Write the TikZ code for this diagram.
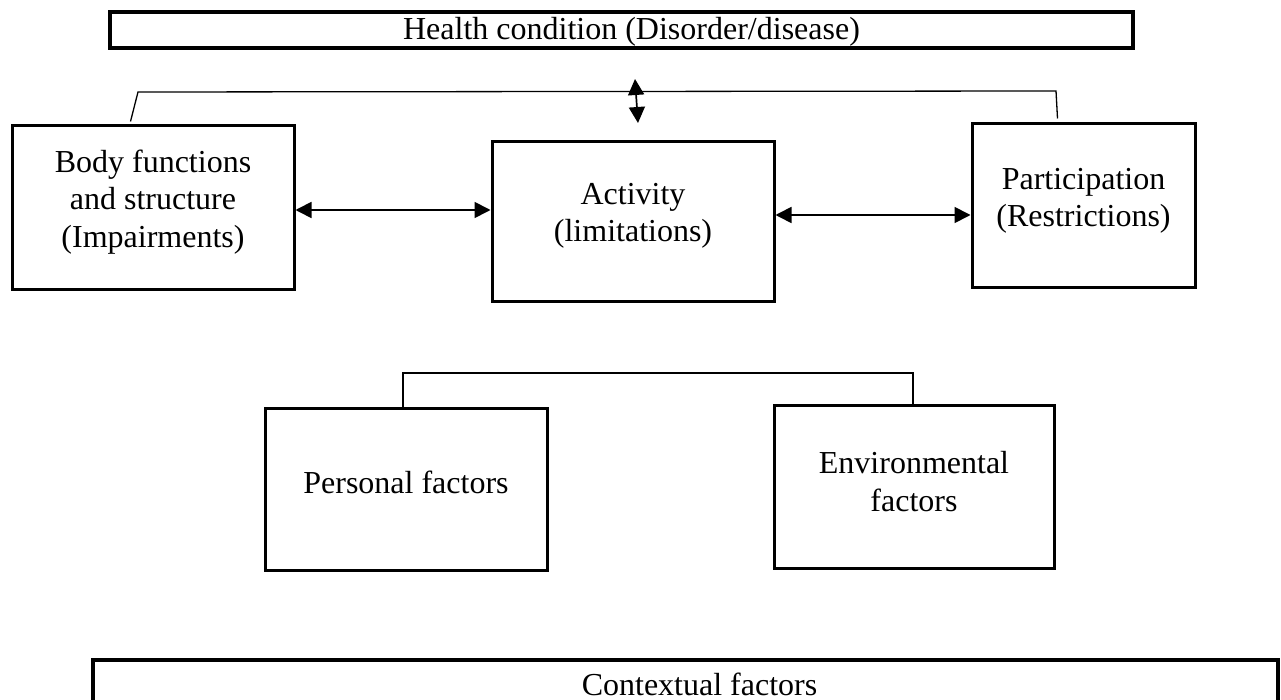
\documentclass[tikz,border=0pt]{standalone}
\usepackage{fontspec}
\setmainfont{Liberation Serif}
\usetikzlibrary{arrows.meta,calc}

\begin{document}
\begin{tikzpicture}[x=1pt,y=-1pt,
  box/.style={draw,line width=3pt,inner sep=0pt},
  widebox/.style={draw,line width=3.4pt,inner sep=0pt},
  txt/.style={align=center,inner sep=0pt,font=\fontsize{32}{37.5}\selectfont},
  tip/.tip={Triangle[length=16pt,width=16pt]},
  dbl/.style={tip-tip,line width=1.7pt},
  bracket/.style={line width=1.3pt}]

\useasboundingbox (0,0) rectangle (1281,700);
\clip (0,0) rectangle (1281,700);

% top and bottom bands
\node[widebox,minimum width=1023pt,minimum height=36pt] (health) at (621.5,30) {};
\node[widebox,minimum width=1185pt,minimum height=58pt] (ctx) at (685.5,689) {};
\node[txt] (healthT) at ([xshift=10pt,yshift=-2pt]health.center)
  {Health condition (Disorder/disease)};
\node[txt] (ctxT) at ([xshift=14pt,yshift=5pt]ctx.center) {Contextual factors};

% component boxes
\node[box,minimum width=282pt,minimum height=164pt] (body) at (153,208) {};
\node[box,minimum width=282pt,minimum height=160pt] (act)  at (633,222) {};
\node[box,minimum width=223pt,minimum height=164pt] (part) at (1083.5,206) {};
\node[box,minimum width=282pt,minimum height=162pt] (pers) at (406,489) {};
\node[box,minimum width=280pt,minimum height=163pt] (env)  at (914,486.5) {};

% box texts
\node[txt] (bodyT) at ([yshift=6pt]body.center) {Body functions\\and structure\\(Impairments)};
\node[txt] (actT)  at ([yshift=6pt]act.center)  {Activity\\(limitations)};
\node[txt] (partT) at ([yshift=5pt]part.center) {Participation\\(Restrictions)};
\node[txt] (persT) at ([yshift=7pt]pers.center) {Personal factors};
\node[txt] (envT)  at ([yshift=5pt]env.center)  {Environmental\\factors};

% interaction arrows
\draw[dbl] ([yshift=-2pt]body.east) -- ([yshift=-2pt]body.east -| act.west);
\draw[dbl] ([yshift=7pt]act.east) -- ([yshift=7pt]act.east -| part.west);
\coordinate (hcA) at (635,79);
\coordinate (hcB) at (638,123);
\draw[dbl] (hcA) -- (hcB);

% brackets joining the boxes
\coordinate (ubL) at (138,92);
\coordinate (ubR) at (1056,91);
\draw[bracket] ([xshift=120pt,yshift=3pt]body.north west) -- (ubL) -- (ubR)
  -- ([xshift=87pt,yshift=4pt]part.north west);

\coordinate (lbL) at (403,373);
\coordinate (lbR) at (913,373);
\draw[bracket] (pers.north west -| lbL) -- (lbL) -- (lbR) -- (env.north west -| lbR);
\end{tikzpicture}
\end{document}
